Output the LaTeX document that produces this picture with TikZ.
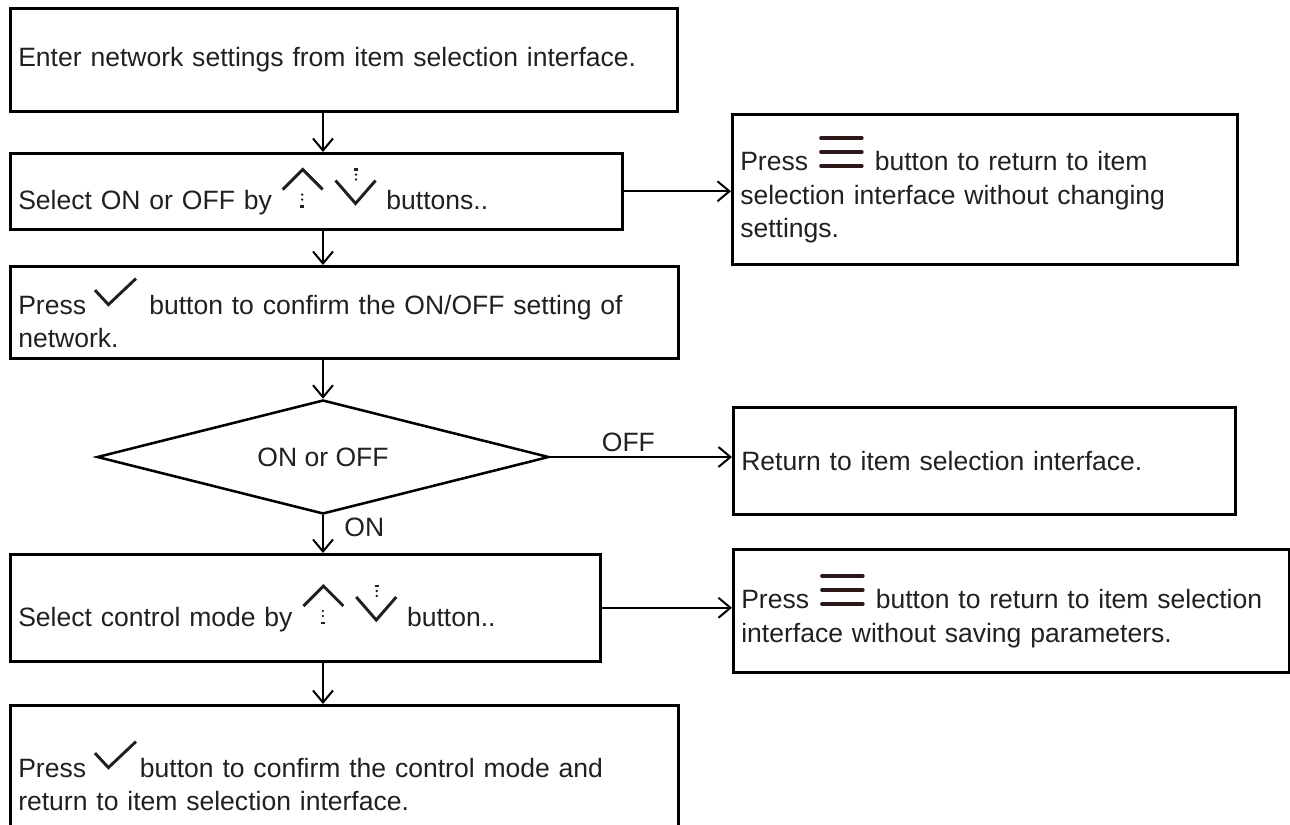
\documentclass[tikz,border=0pt]{standalone}
\usepackage{fontspec}
\setmainfont{Liberation Sans}
\usetikzlibrary{arrows.meta,positioning,shapes.geometric}
\definecolor{flowtext}{RGB}{35,31,32}
\definecolor{flowicon}{RGB}{35,31,32}
\definecolor{menubrown}{RGB}{44,24,24}
\newcommand{\flowfont}{\fontsize{19.9pt}{24.8pt}\selectfont}
% small button glyphs, drawn in pixel units
\newcommand{\upbtn}{\tikz[baseline=0pt,x=0.75pt,y=0.75pt]{%
  \useasboundingbox (-2,0) rectangle (42,42);
  \draw[flowicon,line width=2.2pt] (0,20) -- (20,40) -- (40,20);
  \fill[flowicon] (19.5,15) circle (1.3) (19.5,10) circle (1.3);
  \draw[flowicon,line width=2pt] (17.5,3) -- (21.5,3);}}
\newcommand{\downbtn}{\tikz[baseline=0pt,x=0.75pt,y=0.75pt]{%
  \useasboundingbox (-2,0) rectangle (42,42);
  \draw[flowicon,line width=2.2pt] (0,29) -- (20,6) -- (40,29);
  \fill[flowicon] (20.5,30) circle (1.3) (20.5,35) circle (1.3);
  \draw[flowicon,line width=2pt] (18.5,40) -- (22.5,40);}}
\newcommand{\chkbtn}{\tikz[baseline=0pt,x=0.75pt,y=0.75pt]{%
  \useasboundingbox (0,0) rectangle (41,37);
  \draw[flowicon,line width=2.2pt] (0,24) -- (13.5,9.5) -- (41,35.5);}}
\newcommand{\menubtn}{\tikz[baseline=0pt,x=0.75pt,y=0.75pt]{%
  \useasboundingbox (-3,0) rectangle (46,35);
  \draw[menubrown,line width=2.6pt,line cap=round]
    (1,33) -- (42,33) (1,19) -- (42,19) (1,5) -- (42,5);}}
\tikzset{
  stepbox/.style={draw=black,line width=1.9pt,align=left,anchor=north west,
                  inner xsep=6pt,inner ysep=0pt,text=flowtext,font=\flowfont},
  boxsize/.style 2 args={minimum width=#1*0.75pt,minimum height=#2*0.75pt,
                  text width=#1*0.75pt-12pt},
  decision/.style={diamond,aspect=4,draw=black,line width=1.9pt,inner sep=0pt,
                  text=flowtext,font=\flowfont},
  flowarrow/.style={-{Straight Barb[length=9pt,width=15pt]},line width=1.5pt},
  flowlabel/.style={text=flowtext,font=\flowfont},
}
\begin{document}
\begin{tikzpicture}[x=0.75pt,y=-0.75pt]
  \useasboundingbox (0,0) rectangle (1290,825);
  % main column
  \node[stepbox,boxsize={667}{103}] (b1) at (9,7)
    {Enter network settings from item selection interface.};
  \node[stepbox,boxsize={612}{76}] (b2) at (9,152)
    {Select ON or OFF by~\upbtn~\downbtn~buttons..};
  \node[stepbox,boxsize={668}{92}] (b3) at (9,265)
    {Press~\chkbtn\hspace{10pt}button to confirm the ON/OFF setting of\\network.};
  \node[decision,minimum width=452*0.75pt,minimum height=114*0.75pt] (dec) at (323,457)
    {ON or OFF};
  \node[stepbox,boxsize={590}{107}] (b4) at (9,553)
    {Select control mode by~\upbtn~\downbtn~button..};
  \node[stepbox,boxsize={668}{140}] (b5) at (9,704)
    {Press~\chkbtn\hspace{3pt}button to confirm the control mode and\\return to item selection interface.};
  % side branches
  \node[stepbox,boxsize={505}{150}] (rb1) at (731,113)
    {Press~\menubtn~button to return to item\\selection interface without changing\\settings.};
  \node[stepbox,boxsize={502}{107}] (rb2) at (732,406)
    {Return to item selection interface.};
  \node[stepbox,boxsize={556}{123}] (rb3) at (732,548)
    {Press~\menubtn~button to return to item selection\\interface without saving parameters.};

  \draw[flowarrow] (b1.south -| dec) -- (b2.north -| dec);
  \draw[flowarrow] (b2.south -| dec) -- (b3.north -| dec);
  \draw[flowarrow] (b3.south -| dec) -- (dec.north);
  \draw[flowarrow] (dec.south) -- node[flowlabel,right=12pt,pos=0.33]{ON} (b4.north -| dec);
  \draw[flowarrow] (b4.south -| dec) -- (b5.north -| dec);
  \draw[flowarrow] (b2.east) -- (b2.east -| rb1.west);
  \draw[flowarrow] (dec.east) -- node[flowlabel,above,pos=0.43]{OFF} (dec.east -| rb2.west);
  \draw[flowarrow] (b4.east) -- (b4.east -| rb3.west);
\end{tikzpicture}
\end{document}
